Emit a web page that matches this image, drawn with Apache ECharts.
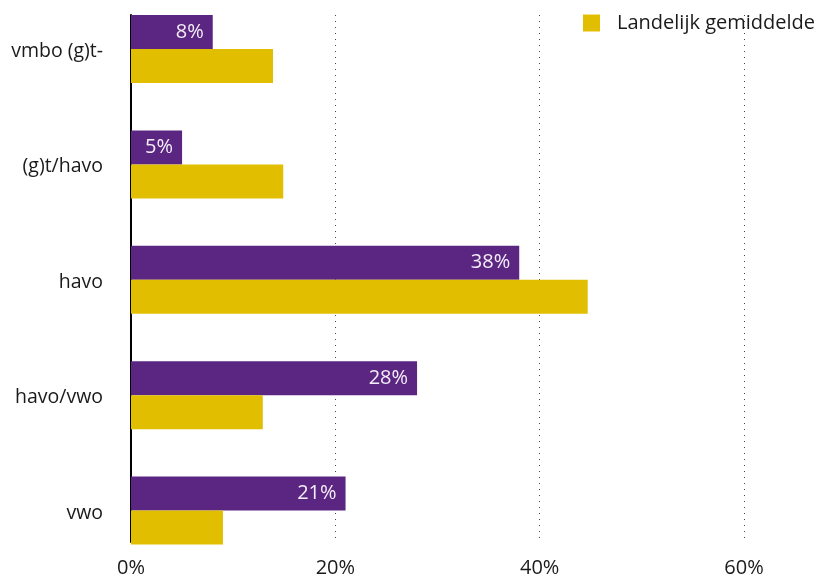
<!DOCTYPE html>
<html>
<head>
<meta charset="utf-8">
<script src="https://cdn.jsdelivr.net/npm/echarts@6/dist/echarts.min.js"></script>
<style>
  html, body { margin: 0; padding: 0; background: #ffffff; }
  #chart { width: 818px; height: 578px; }
</style>
</head>
<body>
<div id="chart"></div>
<script>
// Schooladvies per niveau, vergeleken met het landelijk gemiddelde (in %)
const categories = ['vmbo (g)t-', '(g)t/havo', 'havo', 'havo/vwo', 'vwo'];
const schoolValues = [8, 5, 38, 28, 21];
const nationalValues = [13.9, 14.9, 44.7, 12.9, 9.0];
const xTicks = [0, 20, 40, 60];

const FONT = '"Open Sans", "Noto Sans", sans-serif';
const PURPLE = '#5b2682';
const YELLOW = '#e2be00';
const TEXT = '#1a1a1a';

const chart = echarts.init(document.getElementById('chart'), null, { renderer: 'canvas' });

chart.setOption({
  animation: false,
  textStyle: { fontFamily: FONT },
  legend: {
    data: ['Landelijk gemiddelde'],
    left: 583,
    top: 13,
    padding: 0,
    itemWidth: 17,
    itemHeight: 17,
    icon: 'rect',
    textStyle: {
      fontSize: 20, lineHeight: 17, color: TEXT, fontFamily: FONT,
      padding: [0, 0, 0, 12]
    }
  },
  grid: [
    // frame grid: axis line, dotted gridlines and percentage labels
    { left: 131, right: 74, top: 15, bottom: 33 },
    // bar grid: one tick per category, first and last centred on the band edges
    { left: 131, right: 74, top: 49, height: 461.5 }
  ],
  xAxis: [
    {
      gridIndex: 0,
      type: 'value',
      min: xTicks[0],
      max: xTicks[xTicks.length - 1],
      interval: 20,
      axisLine: { show: false },
      axisTick: { show: false },
      axisLabel: {
        formatter: v => v + '%',
        fontSize: 20,
        color: TEXT,
        margin: 16,
        fontFamily: FONT
      },
      splitLine: {
        show: true,
        lineStyle: { color: '#444', type: [1, 5], width: 1 }
      }
    },
    {
      gridIndex: 1,
      type: 'value',
      min: xTicks[0],
      max: xTicks[xTicks.length - 1],
      show: false
    }
  ],
  yAxis: [
    {
      gridIndex: 0,
      type: 'category',
      data: categories,
      inverse: true,
      axisLine: { show: true, lineStyle: { color: '#000', width: 2 } },
      axisTick: { show: false },
      axisLabel: { show: false },
      splitLine: { show: false }
    },
    {
      gridIndex: 1,
      type: 'category',
      data: categories,
      inverse: true,
      boundaryGap: false,
      axisLine: { show: false },
      axisTick: { show: false },
      axisLabel: {
        margin: 28,
        formatter: v => '{c|' + v + '}',
        rich: {
          c: {
            fontSize: 19.5, color: TEXT, fontFamily: FONT,
            padding: [5, 0, 0, 0]
          }
        }
      },
      splitLine: { show: false }
    }
  ],
  series: [
    {
      name: 'School',
      type: 'bar',
      xAxisIndex: 1,
      yAxisIndex: 1,
      data: schoolValues,
      barWidth: 34,
      barGap: '0%',
      clip: false,
      itemStyle: { color: PURPLE },
      label: {
        show: true,
        position: 'insideRight',
        formatter: p => p.value + '%',
        color: '#f4eef8',
        fontSize: 20,
        distance: 9,
        fontFamily: FONT
      }
    },
    {
      name: 'Landelijk gemiddelde',
      type: 'bar',
      xAxisIndex: 1,
      yAxisIndex: 1,
      data: nationalValues,
      barWidth: 34,
      barGap: '0%',
      clip: false,
      itemStyle: { color: YELLOW }
    }
  ]
});
</script>
</body>
</html>
